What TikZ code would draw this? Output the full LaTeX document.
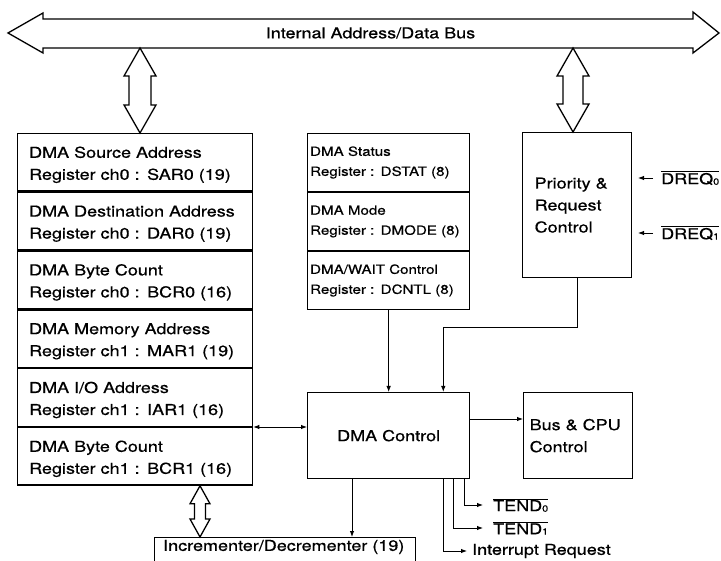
\documentclass[tikz,border=0pt]{standalone}
\usepackage{fontspec}
\setmainfont{TeX Gyre Heros}[FakeStretch=1.2,FakeBold=0.6]
\usetikzlibrary{arrows.meta,calc}
\newcommand\bigf{\fontsize{15}{22}\selectfont}
\newcommand\smallf{\fontsize{12.6}{20}\selectfont}
\newcommand\ovl[2]{$\overline{\mbox{#1\raisebox{-0.5pt}{\fontsize{9}{9}\selectfont #2}}}$}
% hollow double arrow: top point, bottom point, head half width, shaft half width, head length
\newcommand\hdbl[5]{%
  \draw[hollow] (#1) -- ++(#3,#5) -- ++(#4-#3,0) -- ($(#2)+(#4,-#5)$) -- ++(#3-#4,0) -- (#2)
    -- ++(-#3,-#5) -- ++(#3-#4,0) -- ($(#1)+(-#4,#5)$) -- ++(#4-#3,0) -- cycle;}
\tikzset{
  box/.style={draw, line width=1.3pt, inner sep=0pt},
  reg/.style={box, anchor=north west, minimum width=235pt, minimum height=57.5pt,
    text width=212pt, inner xsep=11.5pt, align=left, font=\bigf,
    execute at begin node={\rule{0pt}{16pt}}},
  mid/.style={box, anchor=north west, minimum width=162pt, minimum height=57.7pt,
    text width=157pt, inner xsep=2.5pt, align=left, font=\smallf},
  hollow/.style={draw, line width=1.3pt, line join=miter, fill=white},
  conn/.style={line width=0.9pt, -{Latex[length=6pt,width=4.5pt]}},
  biconn/.style={line width=0.9pt, {Latex[length=6pt,width=4.5pt]}-{Latex[length=6pt,width=4.5pt]}},
  lbl/.style={anchor=west, font=\bigf, inner ysep=1pt}
}
\begin{document}
\begin{tikzpicture}[x=1pt,y=-1pt]
\useasboundingbox (0,0) rectangle (721,561);
\begin{scope}
\clip (0,0) rectangle (721,561);
% bus
\draw[hollow] (8,33) -- (43,13) -- (43,19) -- (693,19) -- (693,12) -- (719,33)
  -- (693,53) -- (693,48) -- (43,48) -- (43,53) -- cycle;
\node[font=\bigf] (bustext) at (370.5,33) {Internal Address/Data Bus};
% register block
\node[reg] (r1) at (17,133) {DMA Source Address\\Register ch0 : SAR0 (19)};
\node[reg] (r2) at (r1.south west) {DMA Destination Address\\Register ch0 : DAR0 (19)};
\node[reg] (r3) at (r2.south west) {DMA Byte Count\\Register ch0 : BCR0 (16)};
\node[reg] (r4) at (r3.south west) {DMA Memory Address\\Register ch1 : MAR1 (19)};
\node[reg] (r5) at (r4.south west) {DMA I/O Address\\Register ch1 : IAR1 (16)};
\node[reg] (r6) at (r5.south west) {DMA Byte Count\\Register ch1 : BCR1 (16)};
% middle registers
\node[mid] (dstat) at (307,133) {DMA Status\\Register : DSTAT (8)};
\node[mid] (dmode) at (dstat.south west) {DMA Mode\\Register : DMODE (8)};
\node[mid] (dcntl) at (dmode.south west) {DMA/WAIT Control\\Register : DCNTL (8)};
% priority
\node[box, anchor=north west, minimum width=109pt, minimum height=145pt, text width=85pt,
  inner xsep=12pt, align=left, font=\bigf] (prio) at (522,132) {Priority \&\\Request\\Control};
% DMA control
\node[box, anchor=north west, minimum width=162pt, minimum height=86pt, font=\bigf] (dmac) at (307,392) {DMA Control};
% Bus & CPU
\node[box, anchor=north west, minimum width=109pt, minimum height=86pt, text width=97pt,
  inner xsep=6pt, align=left, font=\bigf] (bcpu) at (523,392) {Bus \& CPU\\Control};
% incrementer
\node[box, anchor=north west, minimum width=261pt, minimum height=40pt] (inc) at (154,537) {};
\node[anchor=west, font=\bigf, inner sep=0pt] (inctext) at ($(inc.north west)+(9,10)$) {Incrementer/Decrementer (19)};
% hollow arrows
\coordinate (bL) at (140,48);
\coordinate (bLb) at (r1.north -| bL);
\hdbl{bL}{bLb}{16}{11}{28}
\coordinate (bR) at (573,48);
\coordinate (bRb) at (prio.north -| bR);
\hdbl{bR}{bRb}{16}{10}{28}
\coordinate (iT) at ($(r6.south west)+(183,0)$);
\coordinate (iB) at (inc.north -| iT);
\hdbl{iT}{iB}{10}{5.5}{18}
% connectors
\draw[conn] (dcntl.south) -- (dmac.north);
\coordinate (pj) at ($(dmac.north east)+(-27,-65)$);
\draw[conn] (prio.south) |- (pj) -- (pj |- dmac.north);
\draw[biconn] (r6.north east) -- (r6.north east -| dmac.west);
\coordinate (dc1) at ($(dmac.north east)+(0,27)$);
\draw[conn] (dc1) -- (dc1 -| bcpu.west);
\coordinate (dc2) at ($(dmac.south west)+(45,0)$);
\draw[conn] (dc2) -- (dc2 |- inc.north);
% outputs
\node[lbl, inner xsep=10pt] (tend0) at (483,505) {\ovl{TEND}{0}};
\node[lbl, inner xsep=10pt] (tend1) at (483,528) {\ovl{TEND}{1}};
\node[lbl, inner xsep=5pt] (intr) at (467,551) {Interrupt Request};
\draw[conn] ($(dmac.south east)+(-6,0)$) |- (tend0.west);
\draw[conn] ($(dmac.south east)+(-17,0)$) |- (tend1.west);
\draw[conn] ($(dmac.south east)+(-27,0)$) |- (intr.west);
% DREQ inputs
\node[lbl, inner xsep=8pt] (dreq0) at (653,178) {\ovl{DREQ}{0}};
\node[lbl, inner xsep=8pt] (dreq1) at (653,233) {\ovl{DREQ}{1}};
\draw[conn] (dreq0.west) -- ++(-15,0);
\draw[conn] (dreq1.west) -- ++(-15,0);
\end{scope}
\end{tikzpicture}
\end{document}
